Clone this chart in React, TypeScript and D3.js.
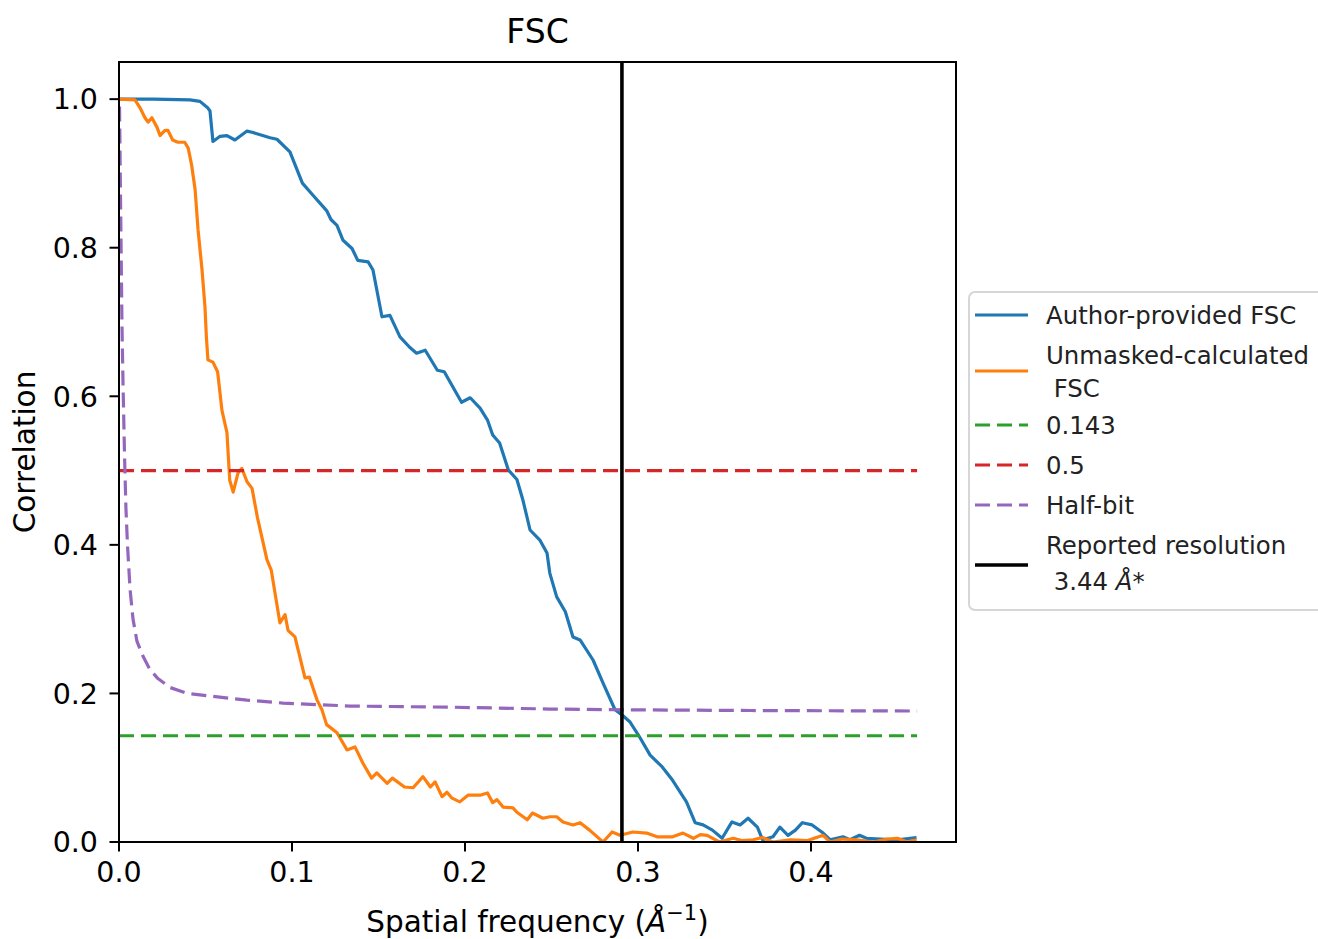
import React from "react";
import * as d3 from "d3";

// ---- data ----
const xTicks = [0.0, 0.1, 0.2, 0.3, 0.4];
const yTicks = [0.0, 0.2, 0.4, 0.6, 0.8, 1.0];

const authorFsc: [number, number][] = [
  [0, 1.0], [0.02, 1.0], [0.041, 0.999], [0.0468, 0.997], [0.0514, 0.988], [0.0526, 0.984],
  [0.0543, 0.943], [0.0584, 0.95], [0.0624, 0.951], [0.067, 0.945], [0.074, 0.957], [0.0775, 0.955],
  [0.0873, 0.948], [0.0913, 0.946], [0.0988, 0.929], [0.106, 0.887], [0.112, 0.871], [0.12, 0.85],
  [0.1225, 0.838], [0.126, 0.83], [0.1295, 0.81], [0.1347, 0.799], [0.138, 0.783], [0.144, 0.781],
  [0.1468, 0.77], [0.152, 0.707], [0.1566, 0.709], [0.1624, 0.68], [0.168, 0.666], [0.172, 0.658],
  [0.177, 0.662], [0.184, 0.635], [0.188, 0.633], [0.198, 0.592], [0.203, 0.598], [0.2087, 0.584],
  [0.213, 0.568], [0.216, 0.548], [0.22, 0.537], [0.225, 0.501], [0.23, 0.488], [0.2335, 0.46],
  [0.2376, 0.42], [0.2434, 0.406], [0.2474, 0.389], [0.249, 0.362], [0.253, 0.33], [0.258, 0.31],
  [0.2624, 0.276], [0.2665, 0.272], [0.274, 0.245], [0.2798, 0.214], [0.2867, 0.178], [0.2908, 0.171],
  [0.2954, 0.1615], [0.301, 0.141], [0.307, 0.117], [0.314, 0.101], [0.32, 0.083], [0.328, 0.054],
  [0.333, 0.026], [0.3376, 0.023], [0.343, 0.016], [0.3486, 0.005], [0.3543, 0.027], [0.359, 0.023],
  [0.3636, 0.032], [0.369, 0.02], [0.372, 0.003], [0.378, 0.007], [0.382, 0.02], [0.3867, 0.009],
  [0.391, 0.016], [0.395, 0.026], [0.4006, 0.023], [0.407, 0.012], [0.411, 0.003], [0.4185, 0.007],
  [0.4225, 0.003], [0.428, 0.009], [0.432, 0.005], [0.44, 0.004], [0.45, 0.003], [0.461, 0.006],
];

const unmaskedFsc: [number, number][] = [
  [0, 1.0], [0.0092, 0.999], [0.012, 0.989], [0.015, 0.975], [0.0168, 0.969], [0.019, 0.975],
  [0.022, 0.962], [0.0237, 0.951], [0.0266, 0.958], [0.0283, 0.958], [0.031, 0.945], [0.034, 0.942],
  [0.038, 0.942], [0.04, 0.934], [0.042, 0.911], [0.044, 0.878], [0.0457, 0.824], [0.048, 0.77],
  [0.0497, 0.72], [0.0505, 0.68], [0.0514, 0.649], [0.0543, 0.646], [0.057, 0.633], [0.0595, 0.581],
  [0.0624, 0.551], [0.064, 0.487], [0.066, 0.471], [0.0688, 0.497], [0.071, 0.503], [0.074, 0.485],
  [0.0769, 0.476], [0.08, 0.437], [0.0855, 0.38], [0.088, 0.366], [0.093, 0.295], [0.096, 0.306],
  [0.0977, 0.285], [0.1017, 0.276], [0.1075, 0.221], [0.11, 0.222], [0.1145, 0.191], [0.1173, 0.178],
  [0.12, 0.158], [0.126, 0.147], [0.1318, 0.124], [0.1364, 0.128], [0.141, 0.106], [0.146, 0.086],
  [0.149, 0.093], [0.155, 0.079], [0.158, 0.086], [0.165, 0.074], [0.17, 0.073], [0.1757, 0.088],
  [0.18, 0.074], [0.1827, 0.081], [0.1867, 0.061], [0.1896, 0.067], [0.1925, 0.059], [0.197, 0.054],
  [0.2017, 0.063], [0.2087, 0.063], [0.213, 0.066], [0.216, 0.053], [0.2185, 0.057], [0.222, 0.047],
  [0.2277, 0.046], [0.23, 0.04], [0.236, 0.03], [0.239, 0.039], [0.245, 0.032], [0.249, 0.034],
  [0.253, 0.034], [0.2566, 0.027], [0.2624, 0.023], [0.2665, 0.026], [0.272, 0.016], [0.2798, 0.0],
  [0.285, 0.0135], [0.2896, 0.009], [0.297, 0.0135], [0.305, 0.012], [0.311, 0.007], [0.32, 0.007],
  [0.326, 0.012], [0.332, 0.005], [0.336, 0.01], [0.34, 0.009], [0.347, 0.0], [0.355, 0.005],
  [0.36, 0.002], [0.3665, 0.003], [0.372, 0.006], [0.378, 0.0], [0.388, 0.003], [0.398, 0.002],
  [0.407, 0.009], [0.411, 0.0], [0.418, 0.004], [0.4266, 0.003], [0.436, 0.0], [0.444, 0.004],
  [0.45, 0.005], [0.4555, 0.0], [0.461, 0.003],
];

const halfBit: [number, number][] = [
  [0.0003, 0.99], [0.0012, 0.8], [0.0017, 0.7], [0.0023, 0.62], [0.0032, 0.52], [0.004, 0.45],
  [0.0049, 0.4], [0.0064, 0.34], [0.0081, 0.3], [0.0104, 0.27], [0.0139, 0.25], [0.0179, 0.232],
  [0.0225, 0.22], [0.0295, 0.208], [0.0393, 0.2], [0.0543, 0.196], [0.074, 0.191], [0.0948, 0.187],
  [0.1335, 0.183], [0.1913, 0.1815], [0.249, 0.179], [0.2908, 0.178], [0.365, 0.177], [0.4613, 0.1763],
];

const threshold143 = 0.143;
const threshold05 = 0.5;
const freqRange = [0, 0.4613];
const reportedResolution = 3.44;

const legendItems = [
  { label: ["Author-provided FSC"], color: "#1f77b4", dash: null, width: 3.2 },
  { label: ["Unmasked-calculated", " FSC"], color: "#ff7f0e", dash: null, width: 3.2 },
  { label: ["0.143"], color: "#2ca02c", dash: "15,7", width: 3.2 },
  { label: ["0.5"], color: "#d62728", dash: "15,7", width: 3.2 },
  { label: ["Half-bit"], color: "#9467bd", dash: "15,7", width: 3.2 },
  { label: ["Reported resolution", " 3.44 Å*"], color: "#000000", dash: null, width: 3.6 },
];

const FONT = "'DejaVu Sans', sans-serif";

export default function App() {
  const left = 119, right = 956, top = 62, bottom = 842;
  const x = d3.scaleLinear().domain([0, 0.4838]).range([left, right]);
  const y = d3.scaleLinear().domain([0, 1.05]).range([bottom, top]);
  const line = d3.line<[number, number]>().x((d) => x(d[0])).y((d) => y(d[1]));

  const resX = x(1 / reportedResolution);

  // legend layout
  const lgX = 969, lgY = 292;
  const rows = [315, 371, 425, 465, 505, 565];
  const textLines = [[315], [355, 388], [425], [465], [505], [545, 581]];

  return (
    <svg width={1318} height={939} style={{ position: "absolute", left: 0, top: 0, background: "#fff" }}
      fontFamily={FONT}>
      <rect x={0} y={0} width={1318} height={939} fill="#fff" />
      <defs>
        <clipPath id="plotclip">
          <rect x={left} y={top} width={right - left} height={bottom - top} />
        </clipPath>
      </defs>

      <g clipPath="url(#plotclip)" fill="none" strokeLinejoin="round">
        <path d={line(authorFsc) || ""} stroke="#1f77b4" strokeWidth={3.2} />
        <path d={line(unmaskedFsc) || ""} stroke="#ff7f0e" strokeWidth={3.2} />
        <line x1={x(freqRange[0])} x2={x(freqRange[1])} y1={y(threshold143)} y2={y(threshold143)}
          stroke="#2ca02c" strokeWidth={3.2} strokeDasharray="15,7" />
        <line x1={x(freqRange[0])} x2={x(freqRange[1])} y1={y(threshold05)} y2={y(threshold05)}
          stroke="#d62728" strokeWidth={3.2} strokeDasharray="15,7" />
        <path d={line(halfBit) || ""} stroke="#9467bd" strokeWidth={3.2} strokeDasharray="15,7" />
        <line x1={resX} x2={resX} y1={top} y2={bottom} stroke="#000" strokeWidth={3.6} />
      </g>

      {/* frame */}
      <rect x={left} y={top} width={right - left} height={bottom - top} fill="none" stroke="#000" strokeWidth={2} />

      {/* x ticks */}
      {xTicks.map((t) => (
        <g key={"x" + t}>
          <line x1={x(t)} x2={x(t)} y1={bottom} y2={bottom + 9.5} stroke="#000" strokeWidth={2} />
          <text x={x(t)} y={bottom + 40} fontSize={28.5} textAnchor="middle" fill="#000">{t.toFixed(1)}</text>
        </g>
      ))}
      {/* y ticks */}
      {yTicks.map((t) => (
        <g key={"y" + t}>
          <line x1={left - 9.5} x2={left} y1={y(t)} y2={y(t)} stroke="#000" strokeWidth={2} />
          <text x={left - 21} y={y(t)} dy="0.36em" fontSize={28.5} textAnchor="end" fill="#000">{t.toFixed(1)}</text>
        </g>
      ))}

      {/* title */}
      <text x={(left + right) / 2} y={43} fontSize={33} textAnchor="middle" fill="#000">FSC</text>

      {/* x label */}
      <text x={(left + right) / 2} y={932} fontSize={29.5} textAnchor="middle" fill="#000">
        Spatial frequency (<tspan fontStyle="italic">Å</tspan>
        <tspan fontSize={21} dy={-12}>−1</tspan>
        <tspan dy={12}>)</tspan>
      </text>

      {/* y label */}
      <text transform={`translate(35,${(top + bottom) / 2}) rotate(-90)`} fontSize={29.5} textAnchor="middle" fill="#000">
        Correlation
      </text>

      {/* legend */}
      <rect x={lgX} y={lgY} width={370} height={318} rx={6} fill="#fff" fillOpacity={0.8} stroke="#d6d6d6" strokeWidth={2} />
      {legendItems.map((it, i) => (
        <g key={"lg" + i}>
          <line x1={975} x2={1028} y1={rows[i]} y2={rows[i]} stroke={it.color} strokeWidth={it.width}
            strokeDasharray={it.dash || undefined} />
          {it.label.map((l, j) => (
            <text key={j} x={1046} y={textLines[i][j]} dy="0.36em" fontSize={24.4} fill="#222"
              style={{ whiteSpace: "pre" }}>
              {l.includes("Å") ? (
                <>
                  {l.replace("Å*", "")}
                  <tspan fontStyle="italic">Å</tspan>*
                </>
              ) : l}
            </text>
          ))}
        </g>
      ))}
    </svg>
  );
}
